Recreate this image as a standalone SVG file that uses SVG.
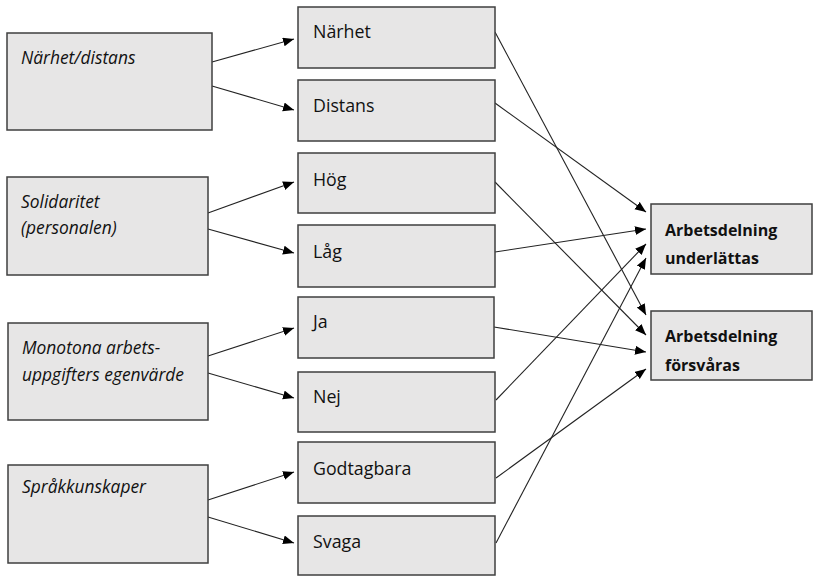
<svg xmlns="http://www.w3.org/2000/svg" width="813" height="576" viewBox="0 0 813 576">
<defs>
<marker id="ah" markerUnits="userSpaceOnUse" markerWidth="12" markerHeight="10" refX="11" refY="4.5" orient="auto">
<path d="M0,0 L11,4.5 L0,9 z" fill="#000"/>
</marker>
<style>
rect{fill:#e7e6e6;stroke:#3f3f3f;stroke-width:1.5}
.it{font-family:"Open Sans","Liberation Sans",sans-serif;font-style:italic;font-size:17.4px;fill:#111}
.md{font-family:"Open Sans","Liberation Sans",sans-serif;font-size:17.8px;fill:#111}
.bd{font-family:"Open Sans","Liberation Sans",sans-serif;font-weight:bold;font-size:16px;fill:#111}
#connectors line{stroke:#222;stroke-width:1.1;marker-end:url(#ah)}
</style>
</defs>
<rect x="0" y="0" width="813" height="576" style="fill:#fff;stroke:none"/>
<g id="connectors">
<line x1="212" y1="62" x2="294" y2="39"/>
<line x1="212" y1="86" x2="294" y2="110"/>
<line x1="208" y1="213" x2="294" y2="182"/>
<line x1="208" y1="229" x2="294" y2="253"/>
<line x1="208" y1="356" x2="294" y2="328"/>
<line x1="208" y1="373" x2="294" y2="398"/>
<line x1="208" y1="500" x2="294" y2="472"/>
<line x1="208" y1="517" x2="294" y2="543"/>
<line x1="495" y1="32" x2="646" y2="315"/>
<line x1="495" y1="103" x2="646" y2="212"/>
<line x1="495" y1="182" x2="646" y2="335"/>
<line x1="495" y1="252" x2="646" y2="229"/>
<line x1="494" y1="327" x2="646" y2="352"/>
<line x1="496" y1="400" x2="646" y2="244"/>
<line x1="496" y1="478" x2="646" y2="369"/>
<line x1="496" y1="543" x2="646" y2="258"/>
</g>
<g id="n-narhet-distans"><rect x="7" y="33" width="205" height="97"/><text class="it" x="21" y="64">Närhet/distans</text></g>
<g id="n-solidaritet"><rect x="7" y="177" width="201" height="98"/><text class="it" x="21" y="208">Solidaritet</text><text class="it" x="21" y="234">(personalen)</text></g>
<g id="n-monotona"><rect x="8" y="323" width="200" height="97"/><text class="it" x="22" y="354">Monotona arbets-</text><text class="it" x="22" y="381">uppgifters egenvärde</text></g>
<g id="n-sprak"><rect x="8" y="465" width="200" height="98"/><text class="it" x="22" y="493">Språkkunskaper</text></g>
<g id="n-narhet"><rect x="298" y="7" width="197" height="61"/><text class="md" x="313" y="38">Närhet</text></g>
<g id="n-distans"><rect x="298" y="80" width="197" height="61"/><text class="md" x="313" y="112">Distans</text></g>
<g id="n-hog"><rect x="298" y="153" width="197" height="60"/><text class="md" x="313" y="186">Hög</text></g>
<g id="n-lag"><rect x="298" y="225" width="197" height="62"/><text class="md" x="313" y="258">Låg</text></g>
<g id="n-ja"><rect x="298" y="297" width="196" height="61"/><text class="md" x="313" y="328">Ja</text></g>
<g id="n-nej"><rect x="298" y="372" width="197" height="60"/><text class="md" x="313" y="403">Nej</text></g>
<g id="n-godtagbara"><rect x="298" y="442" width="197" height="61"/><text class="md" x="313" y="475">Godtagbara</text></g>
<g id="n-svaga"><rect x="298" y="516" width="197" height="59"/><text class="md" x="313" y="548">Svaga</text></g>
<g id="n-underlattas"><rect x="651" y="204" width="161" height="70"/><text class="bd" x="665" y="236">Arbetsdelning</text><text class="bd" x="665" y="264">underlättas</text></g>
<g id="n-forsvaras"><rect x="651" y="311" width="161" height="69"/><text class="bd" x="665" y="342">Arbetsdelning</text><text class="bd" x="665" y="371">försvåras</text></g>
</svg>
